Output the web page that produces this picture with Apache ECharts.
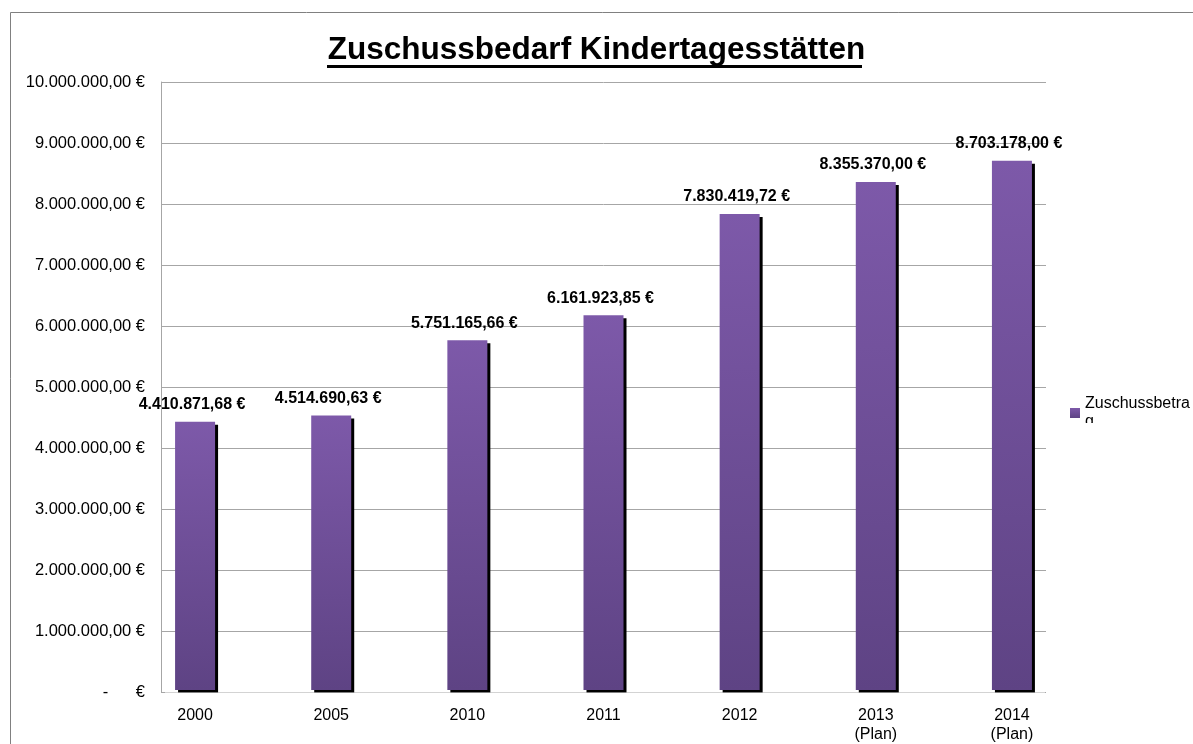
<!DOCTYPE html>
<html>
<head>
<meta charset="utf-8">
<script src="https://cdn.jsdelivr.net/npm/echarts@6/dist/echarts.min.js"></script>
<style>
  html, body { margin: 0; padding: 0; background: #fff; }
  #chart { width: 1193px; height: 744px; }
</style>
</head>
<body>
<div id="chart"></div>
<script>
// Daten aus der Vorlage
var years = ['2000', '2005', '2010', '2011', '2012', '2013\n(Plan)', '2014\n(Plan)'];
var zuschuss = [4410871.68, 4514690.63, 5751165.66, 6161923.85, 7830419.72, 8355370.00, 8703178.00];
var seriesName = 'Zuschussbetrag';
var yMax = 10000000;
var yStep = 1000000;

function euro(v) {
    var parts = Number(v).toFixed(2).split('.');
    var ganz = parts[0].replace(/\B(?=(\d{3})+(?!\d))/g, '.');
    return ganz + ',' + parts[1] + ' €';
}

var chart = echarts.init(document.getElementById('chart'));
var font = 'Liberation Sans, Arial, sans-serif';
var gridColor = '#a6a6a6';

var option = {
    animation: false,
    backgroundColor: '#fff',
    textStyle: { fontFamily: font },
    title: {
        text: 'Zuschussbedarf Kindertagesstätten',
        left: 'center',
        top: 29,
        textStyle: { fontSize: 31.5, fontWeight: 'bold', color: '#000', fontFamily: font }
    },
    legend: {
        data: [seriesName],
        left: 1070,
        top: 395,
        padding: 0,
        orient: 'vertical',
        icon: 'rect',
        itemWidth: 10,
        itemHeight: 10,
        itemGap: 4,
        textStyle: { fontSize: 16, color: '#000', width: 106, overflow: 'breakAll', lineHeight: 18, fontFamily: font }
    },
    graphic: [
        // Rahmen des Diagrammbereichs
        { type: 'rect', shape: { x: 10.5, y: 12.5, width: 1300, height: 800 }, style: { fill: null, stroke: '#808080', lineWidth: 1 }, z: 0, silent: true },
        // Unterstreichung des Titels
        { type: 'rect', shape: { x: 327, y: 65, width: 535, height: 3 }, style: { fill: '#000' }, z: 10, silent: true },
        // abgeschnittene Legendenzeile
        { type: 'rect', shape: { x: 1082, y: 423, width: 110, height: 30 }, style: { fill: '#fff' }, z: 100, silent: true },
        // Schatten unter der Achse ausblenden
        { type: 'rect', shape: { x: 165, y: 692.5, width: 880, height: 5 }, style: { fill: '#fff' }, z: 100, silent: true }
    ],
    grid: [
        { left: 161, top: 82, width: 885, height: 610 },
        { left: 127, top: 82, width: 953, height: 610 }
    ],
    xAxis: [
        {
            type: 'category', gridIndex: 0, data: years,
            axisLine: { show: false }, axisTick: { show: false }, axisLabel: { show: false }
        },
        {
            type: 'category', gridIndex: 1, data: years,
            axisLine: { show: false }, axisTick: { show: false },
            axisLabel: { color: '#000', fontSize: 16, margin: 16, lineHeight: 19, fontFamily: font }
        }
    ],
    yAxis: [
        {
            type: 'value', gridIndex: 0, min: 0, max: yMax, interval: yStep,
            axisLine: { show: true, lineStyle: { color: gridColor } },
            axisTick: { show: false },
            splitLine: { lineStyle: { color: gridColor } },
            axisLabel: {
                color: '#000', fontSize: 16.5, margin: 16, fontFamily: font,
                formatter: function (v) { return v === 0 ? '-      €' : euro(v); }
            }
        },
        {
            type: 'value', gridIndex: 1, min: 0, max: yMax, interval: yStep, show: false,
            splitLine: { show: false }
        }
    ],
    series: [{
        name: seriesName,
        type: 'bar',
        xAxisIndex: 1,
        yAxisIndex: 1,
        data: zuschuss,
        barWidth: 40,
        itemStyle: {
            color: new echarts.graphic.LinearGradient(0, 0, 0, 1, [
                { offset: 0, color: '#7d59a9' },
                { offset: 1, color: '#5e4384' }
            ]),
            shadowColor: '#000',
            shadowOffsetX: 3,
            shadowOffsetY: 3,
            shadowBlur: 0
        },
        label: {
            show: true,
            position: 'top',
            distance: 9,
            offset: [-3, 0],
            color: '#000',
            fontSize: 16,
            fontWeight: 'bold',
            fontFamily: font,
            formatter: function (p) { return euro(p.value); }
        }
    }]
};

chart.setOption(option);
</script>
</body>
</html>
